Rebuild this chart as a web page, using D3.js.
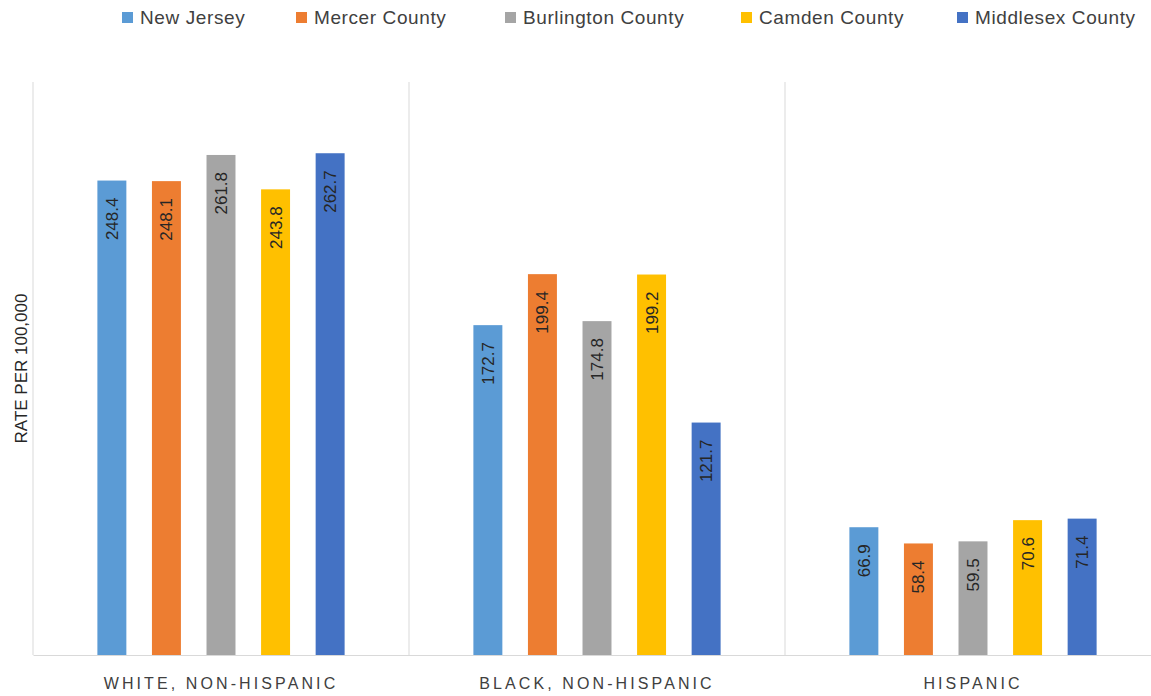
<!DOCTYPE html>
<html>
<head>
<meta charset="utf-8">
<script src="https://cdn.jsdelivr.net/npm/d3@7"></script>
<style>
  html, body { margin: 0; padding: 0; background: #fff; }
  svg { display: block; font-family: "Liberation Sans", Arial, sans-serif; }
</style>
</head>
<body>
<svg id="chart" width="1151" height="696"></svg>
<script>
// Age-adjusted rates by race/ethnicity
const groups = ["WHITE, NON-HISPANIC", "BLACK, NON-HISPANIC", "HISPANIC"];
const series = ["New Jersey", "Mercer County", "Burlington County", "Camden County", "Middlesex County"];
const colors = ["#5B9BD5", "#ED7D31", "#A5A5A5", "#FFC000", "#4472C4"];
const newJersey   = [248.4, 172.7, 66.9];
const mercer      = [248.1, 199.4, 58.4];
const burlington  = [261.8, 174.8, 59.5];
const camden      = [243.8, 199.2, 70.6];
const middlesex   = [262.7, 121.7, 71.4];
const yDomain = [0, 300];
const yTitle = "RATE PER 100,000";

const values = [newJersey, mercer, burlington, camden, middlesex];
const rows = [];
groups.forEach((g, gi) => series.forEach((s, si) => rows.push({ group: g, series: s, value: values[si][gi] })));

const svg = d3.select("#chart");
const plot = { left: 33, right: 1161, top: 82, bottom: 655 };

const x0 = d3.scaleBand().domain(groups).range([plot.left, plot.right]).paddingInner(0).paddingOuter(0);
const x1 = d3.scaleBand().domain(series).range([0, x0.bandwidth()]).paddingInner(0.469).paddingOuter(1.18);
const y = d3.scaleLinear().domain(yDomain).range([plot.bottom, plot.top]);
const color = d3.scaleOrdinal().domain(series).range(colors);

// category separators
svg.append("g").selectAll("line")
  .data(groups)
  .join("line")
  .attr("x1", d => x0(d)).attr("x2", d => x0(d))
  .attr("y1", plot.top).attr("y2", plot.bottom)
  .attr("stroke", "#d9d9d9").attr("stroke-width", 1);

// bars
const gGroups = svg.append("g").selectAll("g")
  .data(groups)
  .join("g")
  .attr("transform", d => `translate(${x0(d)},0)`);

gGroups.selectAll("rect")
  .data(g => rows.filter(r => r.group === g))
  .join("rect")
  .attr("x", d => x1(d.series))
  .attr("y", d => y(d.value))
  .attr("width", x1.bandwidth())
  .attr("height", d => y(0) - y(d.value))
  .attr("fill", d => color(d.series));

// value labels, rotated, inside the top of each bar
gGroups.selectAll("text")
  .data(g => rows.filter(r => r.group === g))
  .join("text")
  .attr("transform", d => `translate(${x1(d.series) + x1.bandwidth() / 2 + 6},${y(d.value) + 17}) rotate(-90)`)
  .attr("text-anchor", "end")
  .attr("font-size", 17)
  .attr("fill", "#262626")
  .text(d => d.value.toFixed(1));

// x axis baseline and category labels
const xAxis = d3.axisBottom(x0).tickSize(0).tickPadding(23);
const axG = svg.append("g").attr("transform", `translate(0,${plot.bottom})`).call(xAxis);
axG.select(".domain").attr("stroke", "#d9d9d9");
axG.selectAll("text")
  .attr("font-size", 16)
  .attr("font-family", "\"Liberation Sans\", Arial, sans-serif")
  .attr("letter-spacing", "3.1px")
  .attr("fill", "#404040");

// y title
svg.append("text")
  .attr("transform", `translate(27,${(plot.top + plot.bottom) / 2}) rotate(-90)`)
  .attr("text-anchor", "middle")
  .attr("font-size", 17)
  .attr("fill", "#262626")
  .text(yTitle);

// legend
const legendX = [122, 296, 505, 741, 957];
const legend = svg.append("g").selectAll("g")
  .data(series)
  .join("g")
  .attr("transform", (d, i) => `translate(${legendX[i]},12)`);
legend.append("rect").attr("width", 11).attr("height", 11).attr("fill", d => color(d));
legend.append("text")
  .attr("x", 18).attr("y", 12)
  .attr("font-size", 19)
  .attr("letter-spacing", "0.6px")
  .attr("fill", "#404040")
  .text(d => d);
</script>
</body>
</html>
